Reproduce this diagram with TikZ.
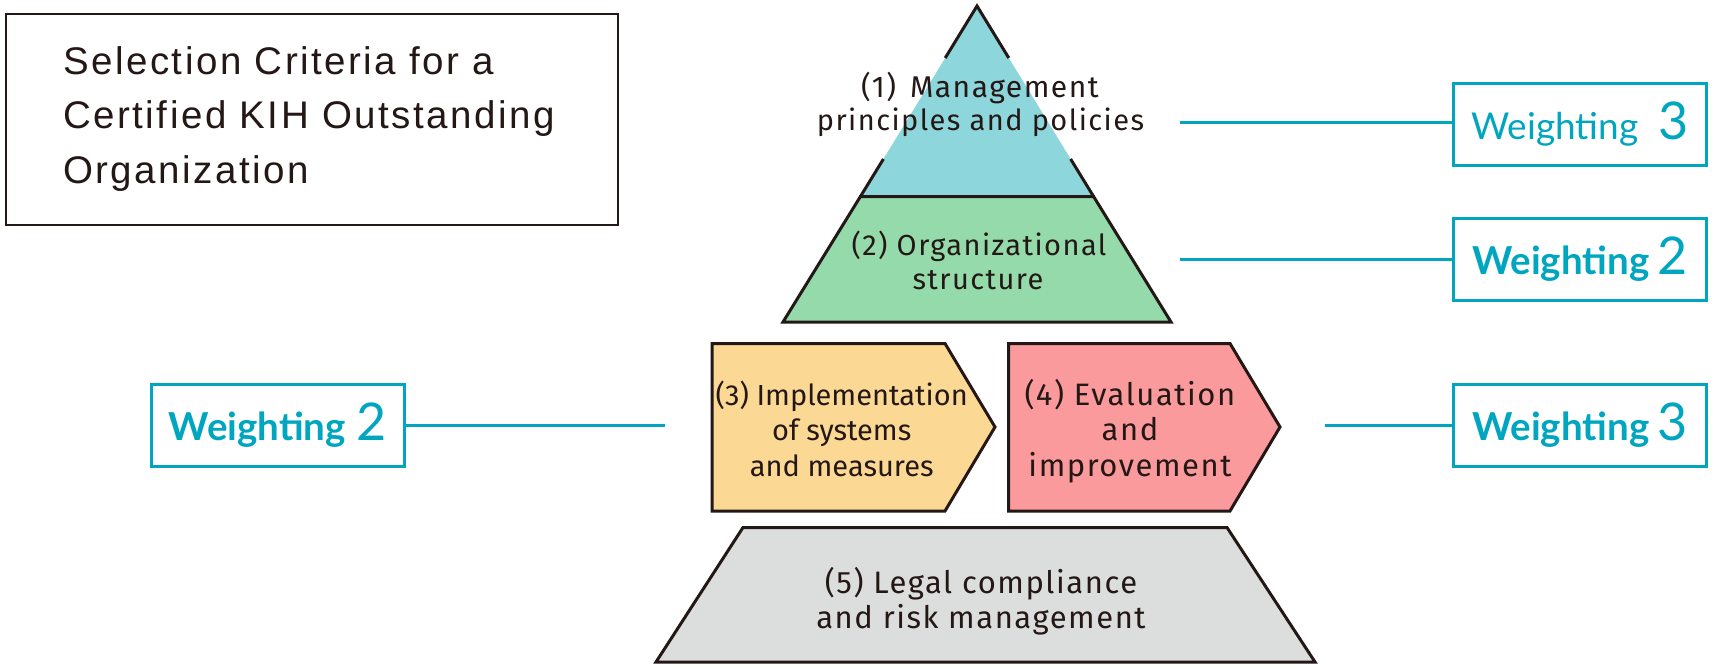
\documentclass[tikz,border=0pt]{standalone}
\usepackage{fontspec}
\setmainfont{Fira Sans}
\newfontfamily\titlefont[LetterSpace=6.5]{Liberation Sans}
\newfontfamily\pyrfont[LetterSpace=5]{Fira Sans}
\newfontfamily\tightfont{Fira Sans}
\newfontfamily\latofont{Lato}
\definecolor{kline}{HTML}{231815}
\definecolor{wcyan}{HTML}{00A5BF}
\definecolor{cone}{HTML}{8DD6DC}
\definecolor{ctwo}{HTML}{95DAAA}
\definecolor{cthree}{HTML}{FBD995}
\definecolor{cfour}{HTML}{FB9A9C}
\definecolor{cfive}{HTML}{DCDEDD}
\tikzset{
  outl/.style={draw=kline, line width=3pt, line join=miter},
  wbox/.style={draw=wcyan, line width=3pt, minimum width=253, minimum height=82, inner sep=0, text=wcyan},
  wline/.style={draw=wcyan, line width=3pt},
  ttl/.style={anchor=base west, inner sep=0, text=kline, font=\titlefont\fontsize{38.5}{38.5}\selectfont},
  lblone/.style={anchor=base, inner sep=0, text=kline, font=\pyrfont\fontsize{30}{30}\selectfont},
  lbltwo/.style={anchor=base, inner sep=0, text=kline, font=\pyrfont\fontsize{29}{29}\selectfont},
  lbl/.style={anchor=base, inner sep=0, text=kline, font=\pyrfont\fontsize{31}{31}\selectfont},
  lbltight/.style={anchor=base, inner sep=0, text=kline, font=\tightfont\fontsize{29}{29}\selectfont},
}
\begin{document}
\begin{tikzpicture}[x=1pt,y=-1pt]
\useasboundingbox (0,0) rectangle (1712,667);
% title
\node[draw=kline, line width=2.5pt, minimum width=612, minimum height=211, inner sep=0, anchor=north west] (titlebox) at (4.5,12.5) {};
\node[ttl] (tl1) at (63,74) {Selection Criteria for a};
\node[ttl] (tl2) at (63,128.5) {Certified KIH Outstanding};
\node[ttl] (tl3) at (63,183) {Organization};
% pyramid top
\fill[cone] (977,6) -- (1093.7,196.7) -- (860.3,196.7) -- cycle;
\draw[outl] (945.2,58) -- (977,6) -- (1008.8,58);
\draw[outl] (883.4,159) -- (860.3,196.7);
\draw[outl] (1070.6,159) -- (1093.7,196.7);
% level 2
\path[outl, fill=ctwo] (860.3,196.7) -- (1093.7,196.7) -- (1171,322) -- (783,322) -- cycle;
% boxes 3 and 4
\path[outl, fill=cthree] (712,343.5) -- (945,343.5) -- (995,427) -- (945,511) -- (712,511) -- cycle;
\path[outl, fill=cfour] (1008.5,343.5) -- (1230,343.5) -- (1280,427) -- (1230,511) -- (1008.5,511) -- cycle;
% level 5
\path[outl, fill=cfive] (743,527.5) -- (1227,527.5) -- (1315,662) -- (656,662) -- cycle;
% labels
\node[lblone] (l1a) at (980,97) {(1)\hspace{14pt}Management};
\node[lbltwo] (l1b) at (980.5,130.5) {principles and policies};
\node[lbltwo] (l2a) at (979,255) {(2) Organizational};
\node[lbltwo] (l2b) at (978,289.5) {structure};
\node[lbltight] (l3a) at (841.7,405) {(3) Implementation};
\node[lbltight] (l3b) at (841.7,440) {of systems};
\node[lbltight] (l3c) at (841.7,476.7) {and measures};
\node[lbl] (l4a) at (1130,405) {(4) Evaluation};
\node[lbl] (l4b) at (1130,440) {and};
\node[lbl] (l4c) at (1130,476.7) {improvement};
\node[lbl] (l5a) at (981,593) {(5) Legal compliance};
\node[lbl] (l5b) at (981,628) {and risk management};
% weighting boxes
\node[wbox] (w1) at (1580,124) {{\latofont\fontsize{37}{37}\selectfont Weighting}\hspace{20pt}{\latofont\fontsize{52}{52}\selectfont 3}};
\node[wbox] (w2) at (1580,259) {{\latofont\bfseries\fontsize{38.5}{38.5}\selectfont Weighting}\hspace{8pt}{\latofont\fontsize{52}{52}\selectfont 2}};
\node[wbox] (w3) at (1580,425.3) {{\latofont\bfseries\fontsize{38.5}{38.5}\selectfont Weighting}\hspace{8pt}{\latofont\fontsize{52}{52}\selectfont 3}};
\node[wbox] (w4) at (278,425) {{\latofont\bfseries\fontsize{38.5}{38.5}\selectfont Weighting}\hspace{11pt}{\latofont\fontsize{52}{52}\selectfont 2}};
% connectors
\coordinate (k1) at (1180,122);
\coordinate (k2) at (1180,259);
\coordinate (k3) at (1325,425);
\coordinate (k4) at (665,425);
\draw[wline] (k1) -- (k1 -| w1.west);
\draw[wline] (k2) -- (k2 -| w2.west);
\draw[wline] (k3) -- (k3 -| w3.west);
\draw[wline] (w4.east |- k4) -- (k4);
\end{tikzpicture}
\end{document}
